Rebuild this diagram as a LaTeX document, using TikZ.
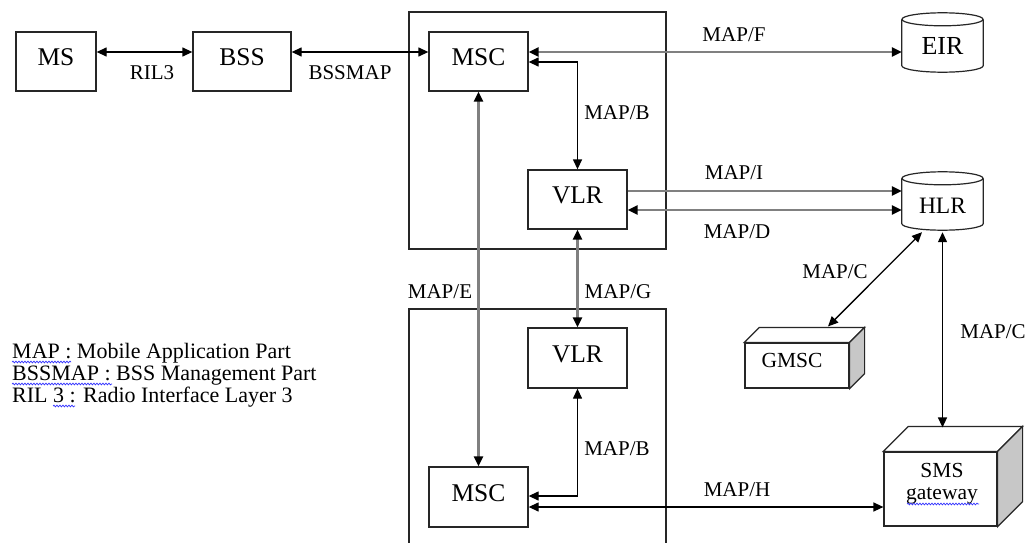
\documentclass[tikz,border=0pt]{standalone}
\usepackage{fontspec}
\setmainfont{Liberation Serif}
\usetikzlibrary{arrows.meta,calc,shapes.geometric,decorations.pathmorphing}
\newcommand\cylshape[1]{%
  \node[draw=black!85, line width=1.2pt, ellipse, minimum width=81pt, minimum height=13pt, inner sep=0pt] (#1top) at ($(#1.north)+(0,6.5)$) {};
  \draw[line width=1.2pt, draw=black!85] ($(#1.north west)+(0,6.5)$) -- ($(#1.south west)+(0,-6.5)$)
    .. controls ($(#1.south west)+(0,-2.9)$) and ($(#1.south)+(-22.4,0)$) .. (#1.south)
    .. controls ($(#1.south)+(22.4,0)$) and ($(#1.south east)+(0,-2.9)$) .. ($(#1.south east)+(0,-6.5)$)
    -- ($(#1.north east)+(0,6.5)$);}
\newcommand\cubeshape[2]{%
  \draw[cubeline, fill=white] (#1.north west) -- ($(#1.north west)+(#2,-#2)$) -- ($(#1.north east)+(#2,-#2)$) -- (#1.north east) -- cycle;
  \draw[cubeline, fill=black!22] (#1.north east) -- ($(#1.north east)+(#2,-#2)$) -- ($(#1.south east)+(#2,-#2)$) -- (#1.south east) -- cycle;}
\begin{document}
\begin{tikzpicture}[x=1pt,y=-1pt,
  >={Triangle[length=10pt,width=9pt,color=black]},
  box/.style={draw=black!85, line width=1.3pt, minimum width=99pt, minimum height=59pt, inner sep=0pt, text depth=8pt, font=\fontsize{25.5}{30}\selectfont},
  frame/.style={draw=black!85, line width=1.3pt},
  cylnode/.style={minimum width=81pt, minimum height=59pt, inner sep=0pt, text height=25pt, text depth=0pt},
  cubeline/.style={draw=black!85, line width=1.2pt},
  cubefront/.style={draw=black!85, line width=1.2pt, fill=white, inner sep=0pt},
  conn/.style={black, line width=1.3pt},
  gconn/.style={draw=black!50, line width=2.5pt},
  lbl/.style={font=\fontsize{21}{24}\selectfont, inner sep=0pt},
  legend/.style={font=\fontsize{22}{22}\selectfont, inner sep=0pt, anchor=base west},
  squig/.style={draw=blue!80, line width=0.7pt, decorate, decoration={snake, amplitude=0.9pt, segment length=3pt}}
]
\clip (0,0) rectangle (1030,543);
\fill[white] (0,0) rectangle (1030,543);

% containers
\draw[frame] (409,12) rectangle (666,249);
\draw[frame] (409,560) -- (409,309) -- (666,309) -- (666,560);

% boxes
\node[box, minimum width=80pt] (ms) at (56,61.5) {MS};
\node[box, minimum width=98pt] (bss) at (242,61.5) {BSS};
\node[box] (msc1) at (478.5,61.5) {MSC};
\node[box] (vlr1) at (577.5,199.5) {VLR};
\node[box, minimum height=60pt] (vlr2) at (577.5,358) {VLR};
\node[box, minimum height=60pt] (msc2) at (478.5,497) {MSC};

% cylinders
\node[cylnode, font=\fontsize{26}{30}\selectfont] (eir) at (942.5,42.5) {};
\cylshape{eir}
\node[cylnode, font=\fontsize{26}{30}\selectfont] (eirtext) at (942.5,42.5) {EIR};
\node[cylnode, minimum height=58pt, font=\fontsize{23.5}{28}\selectfont] (hlr) at (942.5,201) {};
\cylshape{hlr}
\node[cylnode, minimum height=58pt, font=\fontsize{23.5}{28}\selectfont] (hlrtext) at (942.5,201) {HLR};

% cubes
\node[cubefront, minimum width=104pt, minimum height=45pt] (gmsc) at (797,365.5) {};
\cubeshape{gmsc}{15}
\node[font=\fontsize{21.5}{26}\selectfont, inner sep=0pt] (gmsctext) at (792,360) {GMSC};
\node[cubefront, minimum width=113pt, minimum height=74pt] (sms) at (940.5,489) {};
\cubeshape{sms}{25}
\node[font=\fontsize{21.5}{22}\selectfont, inner sep=0pt, align=center, anchor=base] (smstext) at (942,499) {SMS\\gateway};

% connectors
\draw[conn,<->] ($(ms.east)+(0,-9.5)$) -- ($(bss.west)+(0,-9.5)$);
\draw[conn,<->] ($(bss.east)+(0,-9.5)$) -- ($(msc1.west)+(0,-9.5)$);
\draw[gconn,<->] ($(msc1.east)+(0,-9.5)$) -- ($(eir.west)+(0,9.5)$);
\draw[conn,<->] ($(msc1.east)+(0,0.5)$) -| (vlr1.north);
\draw[gconn,->] ($(vlr1.east)+(0,-8.5)$) -- ($(hlr.west)+(0,-10)$);
\draw[gconn,<->] ($(vlr1.east)+(0,10.5)$) -- ($(hlr.west)+(0,9)$);
\draw[gconn,<->] (msc1.south) -- (msc2.north);
\draw[gconn,<->] (vlr1.south) -- (vlr2.north);
\draw[conn,<->] (vlr2.south) |- ($(msc2.east)+(0,-1)$);
\draw[conn,<->] ($(msc2.east)+(0,10)$) -- ($(sms.west)+(0,18)$);
\draw[conn,<->] ($(hlr.south)+(-20.5,2)$) -- ($(gmsc.north)+(31,-16)$);
\draw[conn,<->] ($(hlr.south)+(0,2)$) -- ($(sms.north)+(2,-24)$);

% labels
\node[lbl] (lril) at (152,73) {RIL3};
\node[lbl] (lbssmap) at (350,73) {BSSMAP};
\node[lbl] (lf) at (734,35) {MAP/F};
\node[lbl] (lb1) at (617,113) {MAP/B};
\node[lbl] (li) at (734,173) {MAP/I};
\node[lbl] (ld) at (737,232) {MAP/D};
\node[lbl] (le) at (440,292) {MAP/E};
\node[lbl] (lg) at (618,292) {MAP/G};
\node[lbl] (lb2) at (617,449) {MAP/B};
\node[lbl] (lh) at (737,490) {MAP/H};
\node[lbl] (lc1) at (835,272) {MAP/C};
\node[lbl] (lc2) at (993,332) {MAP/C};

% legend
\node[legend] (leg1) at (12,358) {MAP : Mobile Application Part};
\node[legend] (leg2) at (12,380) {BSSMAP : BSS Management Part};
\node[legend] (leg3) at (12,402) {RIL 3 : Radio Interface Layer 3};

% spell-check underlines
\draw[squig] (12,362) -- (71,362);
\draw[squig] (12,384) -- (112,384);
\draw[squig] (53,406) -- (75,406);
\draw[squig] (907,504) -- (979,504);
\end{tikzpicture}
\end{document}
